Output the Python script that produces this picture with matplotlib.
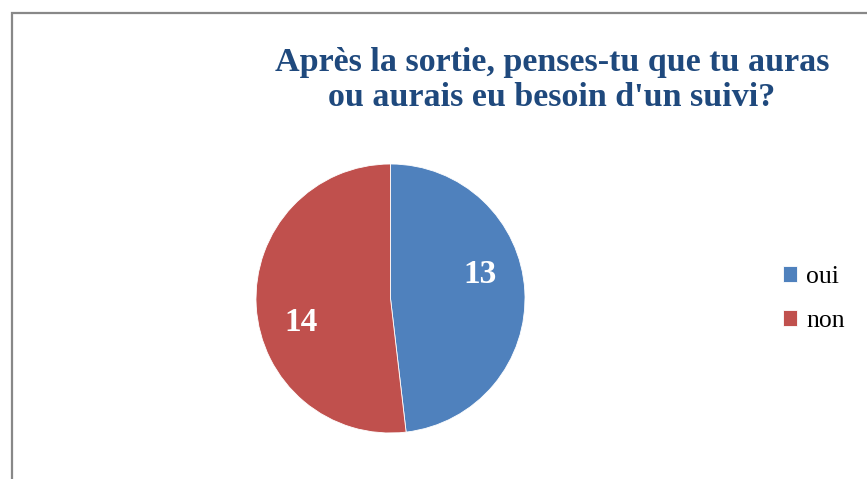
import numpy as np
import matplotlib
matplotlib.use("Agg")
import matplotlib.pyplot as plt
from matplotlib.patches import Rectangle

# --- data ---
title = "Après la sortie, penses-tu que tu auras\nou aurais eu besoin d'un suivi?"
labels = ["oui", "non"]
values = [13, 14]
colors = ["#4F81BD", "#C0504D"]

plt.rcParams["font.family"] = ["Liberation Serif", "DejaVu Serif"]

fig = plt.figure(figsize=(8.67, 4.79), dpi=100)

# chart frame (only left/top edges visible in the crop)
fig.patches.append(Rectangle((11.5 / 867, -0.2), 1.2, 1.2 - 13 / 479,
                             transform=fig.transFigure, fill=False,
                             edgecolor="#888888", linewidth=1.6))

fig.text(552 / 867, 1 - 80 / 479, title, ha="center", va="center",
         fontsize=24.5, fontweight="bold", color="#1F497D", linespacing=1.2)

ax = fig.add_axes([256 / 867, 46 / 479, 269 / 867, 269 / 479])
wedges, _ = ax.pie(values, colors=colors, startangle=90, counterclock=False,
                   radius=1, wedgeprops=dict(edgecolor="white", linewidth=0.6))
ax.set_xlim(-1, 1)
ax.set_ylim(-1, 1)
ax.set_aspect("equal")
ax.axis("off")

# value labels, placed like Excel's best-fit (a bit counter-clockwise of mid-angle)
for w, v in zip(wedges, values):
    ang = np.deg2rad((w.theta1 + w.theta2) / 2 + 11.5)
    ax.text(0.69 * np.cos(ang), 0.69 * np.sin(ang), str(v), ha="center",
            va="center", color="white", fontsize=24, fontweight="bold")

fig.legend(wedges, labels, loc="center left",
           bbox_to_anchor=(783 / 867, 1 - 299 / 479), frameon=False,
           fontsize=18.5, handlelength=0.55, handleheight=0.55,
           handletextpad=0.35, labelspacing=0.85, borderpad=0,
           borderaxespad=0)

fig.savefig("out.png", dpi=100)
